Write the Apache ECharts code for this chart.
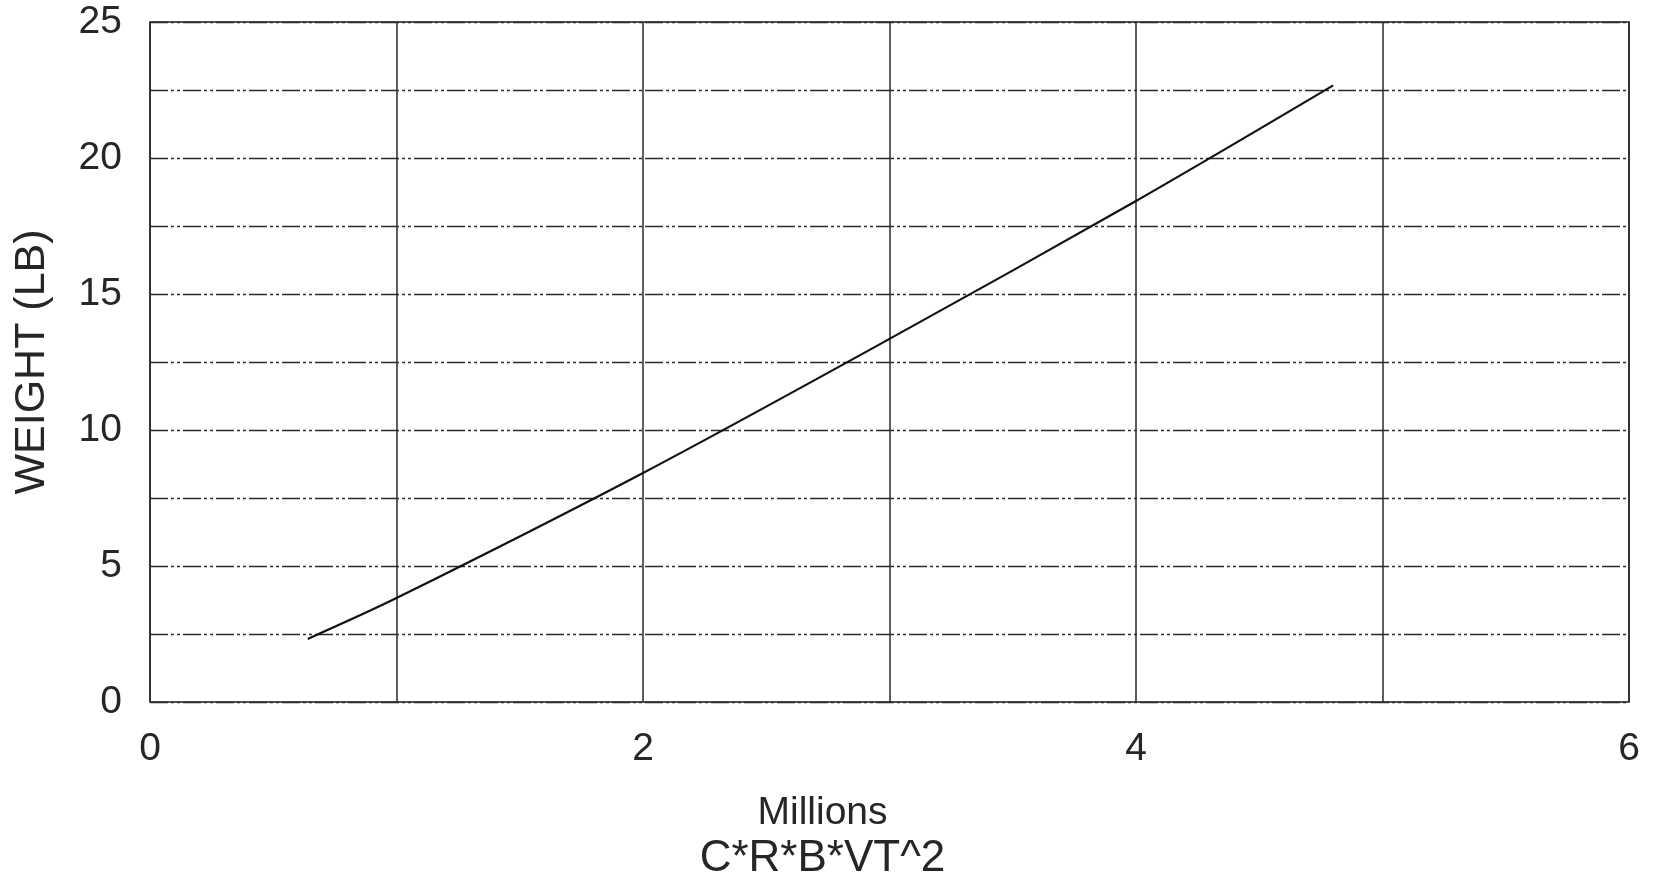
<!DOCTYPE html>
<html>
<head>
<meta charset="utf-8">
<title>Weight vs C*R*B*VT^2</title>
<script src="https://cdn.jsdelivr.net/npm/echarts@6/dist/echarts.min.js"></script>
<style>
  html, body { margin: 0; padding: 0; background: #ffffff; }
  #chart { width: 1653px; height: 886px; }
</style>
</head>
<body>
<div id="chart"></div>
<script>
// C*R*B*VT^2 in millions
const crbvt2 = [0.64, 1, 2, 3, 4, 4.8];
// Weight in pounds
const weightLb = [2.32, 3.82, 8.42, 13.35, 18.42, 22.67];
// Axis tick labels
const xTickLabels = [0, 2, 4, 6];
const yTickLabels = [0, 5, 10, 15, 20, 25];

const ink = '#1e1e1e';
const gridInk = '#2a2a2a';
const textInk = '#262626';
const font = 'Liberation Sans, Arial, sans-serif';

const chart = echarts.init(document.getElementById('chart'), null, { renderer: 'canvas' });

chart.setOption({
  backgroundColor: '#ffffff',
  animation: false,
  grid: {
    left: 150, right: 24, top: 22, bottom: 182,
    show: true, borderColor: ink, borderWidth: 1.5, backgroundColor: 'transparent'
  },
  xAxis: {
    type: 'value',
    min: 0, max: 6, interval: 1,
    axisLine: { show: false },
    axisTick: { show: false },
    axisLabel: {
      color: textInk, fontFamily: font, fontSize: 39, margin: 28,
      formatter: v => (xTickLabels.includes(v) ? String(v) : '')
    },
    splitLine: { show: true, lineStyle: { color: gridInk, width: 1.5, type: 'solid' } },
    name: '{a|Millions}\n{b|C*R*B*VT^2}',
    nameLocation: 'middle',
    nameGap: 88,
    nameTextStyle: {
      color: textInk, fontFamily: font, padding: [0, 134, 0, 0], align: 'center',
      rich: {
        a: { fontSize: 39, fontFamily: font, color: textInk, lineHeight: 46, align: 'center' },
        b: { fontSize: 44, fontFamily: font, color: textInk, lineHeight: 46, align: 'center' }
      }
    }
  },
  yAxis: {
    type: 'value',
    min: 0, max: 25, interval: 2.5,
    axisLine: { show: false },
    axisTick: { show: false },
    axisLabel: {
      color: textInk, fontFamily: font, fontSize: 39, margin: 28,
      formatter: v => (yTickLabels.includes(v) ? String(v) : '')
    },
    splitLine: {
      show: true,
      lineStyle: { color: gridInk, width: 1.3, type: [18, 3, 3, 3, 3, 3] }
    },
    name: 'WEIGHT (LB)',
    nameLocation: 'middle',
    nameGap: 96,
    nameRotate: 90,
    nameTextStyle: { color: textInk, fontFamily: font, fontSize: 43 }
  },
  series: [{
    type: 'line',
    data: crbvt2.map((x, i) => [x, weightLb[i]]),
    showSymbol: false,
    smooth: 0.3,
    lineStyle: { color: '#111111', width: 2.2 },
    z: 5
  }]
});
</script>
</body>
</html>
